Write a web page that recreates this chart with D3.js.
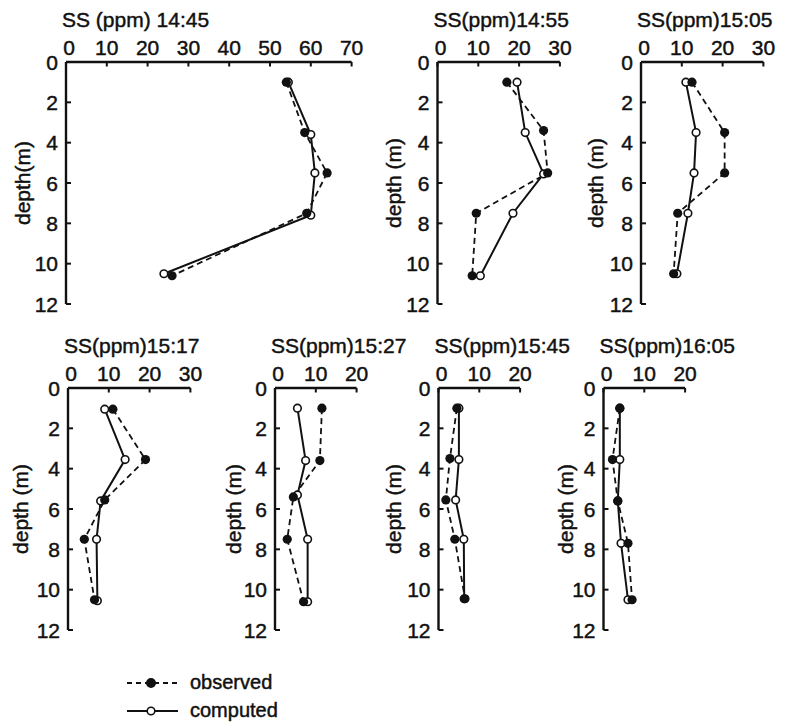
<!DOCTYPE html>
<html>
<head>
<meta charset="utf-8">
<script src="https://cdn.jsdelivr.net/npm/d3@7"></script>
<style>
  html, body { margin: 0; padding: 0; background: #fff; }
  svg { display: block; }
  text { font-family: "Liberation Sans", Arial, sans-serif; fill: #111; stroke: #111; stroke-width: 0.45px; }
</style>
</head>
<body>
<svg id="chart" width="788" height="725"></svg>
<script>
// Suspended-sediment profiles: SS concentration (ppm) against depth (m)
const panelTimes = ["14:45", "14:55", "15:05", "15:17", "15:27", "15:45", "16:05"];
const panelTitles = ["SS (ppm)  14:45", "SS(ppm)14:55", "SS(ppm)15:05", "SS(ppm)15:17",
                     "SS(ppm)15:27", "SS(ppm)15:45", "SS(ppm)16:05"];
const depthLabels = ["depth(m)", "depth (m)", "depth (m)", "depth (m)", "depth (m)", "depth (m)", "depth (m)"];
const ssMax = [70, 30, 30, 30, 20, 20, 20];
const depthTicks = [0, 2, 4, 6, 8, 10, 12];

// [SS ppm, depth m]
const observed1445 = [[54, 1.0], [58.5, 3.5], [64, 5.5], [59, 7.5], [26, 10.6]];
const computed1445 = [[54.5, 1.0], [60, 3.6], [61, 5.5], [60, 7.6], [24, 10.5]];
const observed1455 = [[17, 1.0], [26, 3.4], [27, 5.5], [9.5, 7.5], [8.5, 10.6]];
const computed1455 = [[19.5, 1.0], [21.5, 3.5], [26, 5.55], [18.5, 7.5], [10.5, 10.6]];
const observed1505 = [[12.5, 1.0], [20.5, 3.5], [20.5, 5.5], [9, 7.5], [8, 10.5]];
const computed1505 = [[11, 1.0], [13.5, 3.5], [13, 5.5], [11.5, 7.5], [8.8, 10.5]];
const observed1517 = [[11, 1.05], [19, 3.55], [9, 5.55], [4, 7.5], [6.5, 10.5]];
const computed1517 = [[9, 1.05], [14, 3.55], [8, 5.6], [7, 7.5], [7.2, 10.55]];
const observed1527 = [[11.5, 1.0], [11, 3.6], [4.5, 5.4], [3, 7.5], [7, 10.6]];
const computed1527 = [[5.5, 1.0], [7.5, 3.6], [5.5, 5.3], [8, 7.5], [8, 10.6]];
const observed1545 = [[4.5, 1.0], [2.8, 3.5], [1.8, 5.55], [4, 7.5], [6.5, 10.45]];
const computed1545 = [[5, 1.0], [5, 3.55], [4.2, 5.55], [6.2, 7.5], [6.3, 10.45]];
const observed1605 = [[4, 1.0], [2.2, 3.55], [3.5, 5.6], [6, 7.7], [7, 10.5]];
const computed1605 = [[4, 1.0], [4, 3.55], [3.5, 5.6], [4.3, 7.7], [6, 10.5]];

const observedSets = [observed1445, observed1455, observed1505, observed1517, observed1527, observed1545, observed1605];
const computedSets = [computed1445, computed1455, computed1505, computed1517, computed1527, computed1545, computed1605];

const legendLabels = ["observed", "computed"];

// ---- layout ----
const pxPerPpm = 4.08;
const plotH = 242;
const origins = [
  [66, 62], [437.5, 62], [641, 62],
  [68, 388], [275, 388], [438.5, 388], [603.5, 388]
];
const depthLabelX = [22, 393, 595, 20, 233, 393, 565];

const svg = d3.select("#chart");

panelTimes.forEach((t, i) => {
  const [ox, oy] = origins[i];
  const g = svg.append("g").attr("transform", `translate(${ox},${oy})`);
  const x = d3.scaleLinear().domain([0, ssMax[i]]).range([0, ssMax[i] * pxPerPpm]);
  const y = d3.scaleLinear().domain([0, 12]).range([0, plotH]);

  // top (SS) axis, ticks hanging inward
  const xt = d3.range(0, ssMax[i] + 1, 10);
  g.append("line").attr("x1", 0).attr("x2", x(ssMax[i])).attr("y1", 0).attr("y2", 0)
    .attr("stroke", "#111").attr("stroke-width", 2.4);
  g.selectAll(".xtick").data(xt).join("line")
    .attr("x1", d => x(d)).attr("x2", d => x(d)).attr("y1", 0).attr("y2", 4.5)
    .attr("stroke", "#111").attr("stroke-width", 2);
  g.selectAll(".xlab").data(xt).join("text")
    .attr("x", d => x(d) + (d === 0 ? 3 : 0)).attr("y", -7)
    .attr("text-anchor", "middle").attr("font-size", 21)
    .text(d => d);

  // depth axis, ticks pointing inward
  g.append("line").attr("x1", 0).attr("x2", 0).attr("y1", 0).attr("y2", y(12))
    .attr("stroke", "#111").attr("stroke-width", 2.4);
  g.selectAll(".ytick").data(depthTicks.slice(1)).join("line")
    .attr("x1", 0).attr("x2", 5).attr("y1", d => y(d)).attr("y2", d => y(d))
    .attr("stroke", "#111").attr("stroke-width", 2);
  g.selectAll(".ylab").data(depthTicks).join("text")
    .attr("x", -8).attr("y", d => y(d)).attr("dy", "0.36em")
    .attr("text-anchor", "end").attr("font-size", 21)
    .text(d => d);

  // panel title
  g.append("text").attr("x", -4).attr("y", -35).attr("font-size", 21).text(panelTitles[i]);

  // depth label
  svg.append("text")
    .attr("transform", `translate(${depthLabelX[i]},${oy + y(6)}) rotate(-90)`)
    .attr("text-anchor", "middle").attr("dy", "0.36em").attr("font-size", 21)
    .text(depthLabels[i]);

  const line = d3.line().x(d => x(d[0])).y(d => y(d[1]));

  g.append("path").datum(computedSets[i]).attr("d", line)
    .attr("fill", "none").attr("stroke", "#111").attr("stroke-width", 2);
  g.append("path").datum(observedSets[i]).attr("d", line)
    .attr("fill", "none").attr("stroke", "#111").attr("stroke-width", 1.8)
    .attr("stroke-dasharray", "6,4");

  g.selectAll(".cpt").data(computedSets[i]).join("circle")
    .attr("cx", d => x(d[0])).attr("cy", d => y(d[1])).attr("r", 3.8)
    .attr("fill", "#fff").attr("stroke", "#111").attr("stroke-width", 1.6);
  g.selectAll(".opt").data(observedSets[i]).join("circle")
    .attr("cx", d => x(d[0])).attr("cy", d => y(d[1])).attr("r", 4.6)
    .attr("fill", "#111");
});

// legend
const lg = svg.append("g");
legendLabels.forEach((lab, k) => {
  const yy = 683 + k * 28;
  lg.append("line").attr("x1", 127).attr("x2", 178).attr("y1", yy).attr("y2", yy)
    .attr("stroke", "#111").attr("stroke-width", k === 0 ? 1.8 : 2)
    .attr("stroke-dasharray", k === 0 ? "5,4" : null);
  lg.append("circle").attr("cx", 151).attr("cy", yy).attr("r", k === 0 ? 4.2 : 3.8)
    .attr("fill", k === 0 ? "#111" : "#fff").attr("stroke", "#111").attr("stroke-width", 1.6);
  lg.append("text").attr("x", 190).attr("y", yy).attr("dy", "0.32em")
    .attr("font-size", 20).text(lab);
});
</script>
</body>
</html>
